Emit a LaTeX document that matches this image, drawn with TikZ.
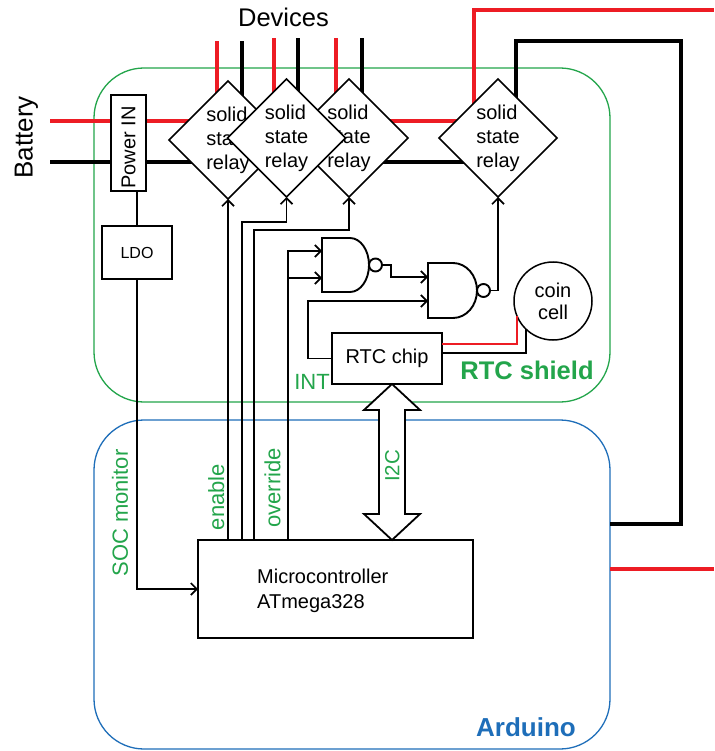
\documentclass[tikz,border=0pt]{standalone}
\usepackage{fontspec}
\setmainfont{Liberation Sans}
\usetikzlibrary{shapes.geometric,arrows.meta}
\definecolor{sgreen}{RGB}{35,165,75}
\definecolor{sblue}{RGB}{30,110,185}
\definecolor{sred}{RGB}{237,28,36}
\pgfdeclarelayer{back}
\pgfdeclarelayer{wires}
\pgfsetlayers{back,wires,main}
\tikzset{
  wire/.style={line width=1.7pt, black},
  pw/.style={line width=3.2pt},
  box/.style={draw, line width=1.5pt, fill=white, inner sep=0pt, outer sep=0pt},
  relay/.style={diamond, draw, line width=1.5pt, fill=white, minimum width=118pt,
    minimum height=118pt, inner sep=0pt, outer sep=0pt, align=left,
    font=\fontsize{20}{24}\selectfont},
  lab/.style={text=sgreen, font=\fontsize{22}{26}\selectfont, inner sep=0pt},
  arr/.style={-{Straight Barb[length=6pt,width=12pt]}},
  gate/.style={draw, line width=1.9pt, fill=white},
  frame/.style={draw, line width=1.3pt, rounded corners=50pt, inner sep=0pt, outer sep=0pt}
}
\begin{document}
\begin{tikzpicture}[x=1pt,y=-1pt]
\useasboundingbox (0,0) rectangle (714,751);

% frames
\begin{pgfonlayer}{back}
  \fill[white] (0,0) rectangle (714,751);
  \node[frame, draw=sgreen, minimum width=516pt, minimum height=334pt] (shield) at (352,235) {};
  \node[frame, draw=sblue, minimum width=516pt, minimum height=329pt] (arduino) at (352,584.5) {};
\end{pgfonlayer}

% relays (d2 drawn last, on top of d1 and d3)
\node[relay] (d1) at (228,140) {solid\\state\\relay};
\node[relay] (d3) at (349,138) {solid\\state\\relay};
\node[relay] (d2) at (286.5,138) {solid\\state\\relay};
\node[relay] (d4) at (498,138) {solid\\state\\relay};

% boxes
\node[box, minimum width=35pt, minimum height=96pt] (pwr) at (128.5,143) {};
\node[rotate=90, inner sep=0pt, font=\fontsize{20}{24}\selectfont] (pwrtxt) at (128.5,147.5) {Power IN};
\node[box, minimum width=70pt, minimum height=53pt, font=\fontsize{16}{19}\selectfont] (ldo) at (137,252.5) {LDO};
\node[box, minimum width=275pt, minimum height=98pt] (mcu) at (335.5,589) {};
\node[anchor=west, align=left, inner sep=0pt, font=\fontsize{20}{24.5}\selectfont] (mcutxt) at (257,591) {Microcontroller\\ATmega328};
\node[box, minimum width=110pt, minimum height=51pt, font=\fontsize{20}{24}\selectfont] (rtc) at (387,358.5) {RTC chip};
\node[circle, draw, line width=1.5pt, fill=white, minimum size=78pt, inner sep=0pt, outer sep=0pt,
  align=center, font=\fontsize{20}{22}\selectfont] (coin) at (553,301) {coin\\cell};

% NAND gates
\draw[gate] (322,238) -- (350,238) arc[start angle=-90,end angle=90,x radius=19,y radius=27] -- (322,292) -- cycle;
\draw[gate] (375.5,265) circle[radius=6.5];
\draw[gate] (428,263) -- (453,263) arc[start angle=-90,end angle=90,x radius=24,y radius=27.5] -- (428,318) -- cycle;
\draw[gate] (483.5,290.5) circle[radius=6.5];
\coordinate (g1i1) at (322,251);
\coordinate (g1i2) at (322,278);
\coordinate (g1o) at (382,265);
\coordinate (g2i1) at (428,277);
\coordinate (g2i2) at (428,301);
\coordinate (g2o) at (490,290.5);

% power wiring
\begin{pgfonlayer}{wires}
  \coordinate (batR) at (50,121);
  \coordinate (batB) at (50,162);
  \draw[pw, sred] (batR) -- (d4.center |- batR);
  \draw[pw, black] (batB) -- (d4.center |- batB);
  \draw[pw, sred] ([xshift=-11pt]d1.center) -- ++(0,-99);
  \draw[pw, black] ([xshift=14pt]d1.center) -- ++(0,-99);
  \draw[pw, sred] ([xshift=-12.5pt]d2.center) -- ++(0,-100);
  \draw[pw, black] ([xshift=11.5pt]d2.center) -- ++(0,-100);
  \draw[pw, sred] ([xshift=-13pt]d3.center) -- ++(0,-100);
  \draw[pw, black] ([xshift=13pt]d3.center) -- ++(0,-100);
  \draw[pw, sred] ([xshift=-24pt]d4.center) -- ++(0,-128) -- (714,10);
  \draw[line width=3.5pt, black] ([xshift=18pt]d4.center) |- (681,41) |- (arduino.east |- 0,524);
  \draw[pw, sred] (arduino.east |- 0,569) -- (714,569);
\end{pgfonlayer}

% signal wiring
\draw[wire] (ldo.north |- pwr.south) -- (ldo.north);
\draw[wire, arr] (ldo.south) |- (mcu.west);
\draw[wire, arr] (mcu.north -| d1.south) -- (d1.south);
\draw[wire, arr] (mcu.north -| 242,0) -- (242,222) -| (d2.south);
\draw[wire, arr] (mcu.north -| 254,0) -- (254,230) -| (d3.south);
\draw[wire, arr] (mcu.north -| 288,0) |- (g1i1);
\draw[wire, arr] (288,278) -- (g1i2);
\draw[wire, arr] (g1o) -- (391,265) |- (g2i1);
\draw[wire, arr] (rtc.west) -- (308,358.5) |- (g2i2);
\draw[wire, arr] (g2o) -| (d4.south);
\draw[line width=1.3pt, sred] (coin.203) |- (rtc.east |- 0,344);
\draw[line width=1.3pt, black] (coin.226) |- (rtc.east |- 0,353);

% I2C double arrow
\coordinate (i2ct) at (392,384);
\draw[line width=1.8pt, fill=white] (i2ct) -- ++(28,26) -- ++(-15,0) -- ++(0,104) -- ++(15,0)
  -- ++(-28,26) -- ++(-28,-26) -- ++(15,0) -- ++(0,-104) -- ++(-15,0) -- cycle;

% labels
\node[inner sep=0pt, font=\fontsize{25.5}{30}\selectfont] (devices) at (283.5,17) {Devices};
\node[rotate=90, inner sep=0pt, font=\fontsize{26}{30}\selectfont] (battery) at (26.5,137.5) {Battery};
\node[lab, rotate=90] (soc) at (120,513) {SOC monitor};
\node[lab, rotate=90] (enable) at (216.3,497) {enable};
\node[lab, rotate=90] (override) at (272.5,488) {override};
\node[lab, rotate=90, font=\fontsize{20.5}{24}\selectfont] (i2c) at (392.3,466) {I2C};
\node[lab] (int) at (312,382) {INT};
\node[inner sep=0pt, text=sgreen, font=\bfseries\fontsize{25.5}{30}\selectfont] (shieldlab) at (527,370.5) {RTC shield};
\node[inner sep=0pt, text=sblue, font=\bfseries\fontsize{26}{30}\selectfont] (ardlab) at (526,727.5) {Arduino};
\end{tikzpicture}
\end{document}
